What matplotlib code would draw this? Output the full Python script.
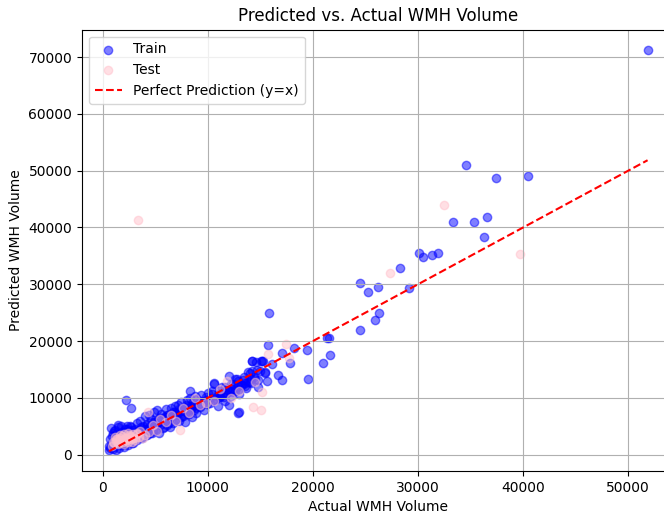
import matplotlib
matplotlib.use('Agg')
import matplotlib.pyplot as plt

# 학습 데이터 (실제값, 예측값)
train_actual = [
    700, 800, 900, 1000, 1100, 1200, 1300, 1400, 800, 1000, 1200, 1500, 1600, 1700, 1800, 1900,
    2000, 2100, 2200, 2300, 2400, 2500, 2600, 2700, 2800, 2900, 3000, 600, 650, 750, 850, 950,
    1050, 1150, 1250, 1350, 1450, 1550, 1650, 1750, 1850, 1950, 2050, 2150, 2250, 2350, 2450,
    2550, 2650, 2750, 2850, 2950,
    3100, 3200, 3300, 3400, 3500, 3600, 3700, 3800, 3900, 4000, 4100, 4200, 4300, 4400, 4500,
    4600, 4700, 4800, 4900, 5000, 5100, 5200, 5300, 5400, 5500, 5600, 5700, 5800, 5900, 6000,
    6100, 6200, 6300, 6400, 6500, 6600, 6700, 6800, 6900, 7000,
    7100, 7200, 7300, 7400, 7500, 7600, 7700, 7800, 7900, 8000, 8100, 8200, 8300, 8400, 8500,
    8600, 8700, 8800, 8900, 9000, 9200, 9400, 9600, 9800, 10000, 10200, 10400, 10600, 10800, 11000,
    11200, 11400, 11600, 11800, 12000, 12200, 12400, 12600, 12800, 13000, 13200, 13400, 13600,
    13800, 14000, 14200, 14400, 14600, 14800, 15000, 15200, 15400, 15600, 13000, 8300, 12000, 11500,
    2260, 2730, 15840, 15690, 18190, 19400, 21360, 21500, 20980, 19520, 17110, 17810, 16670, 17110,
    15210, 14190, 15110, 16100, 14220, 15460, 12640, 10600, 12860, 21650,
    24450, 25940, 26250, 29170, 26220, 25200, 24500, 28290, 30070, 30450, 31300, 31940,
    36250, 33300, 35360, 36540, 34600, 37430, 40450, 51840,
    1300, 1600, 2000, 2400, 2800, 3300, 3700, 4200, 4700, 5200, 5800, 6300, 6900, 7500, 8100,
    8700, 9300, 9900, 10500, 11100, 11700, 12300, 12900, 13500, 14100,
    3050, 3350, 3650, 3950, 4250, 4550, 4850, 5150, 5450, 5750, 6050, 6350, 6650, 6950, 7250,
    7550, 7850, 8150, 8450, 8750, 9050, 9350, 9650, 9950, 10250, 10550, 10850, 11150, 11450,
    11750, 12050, 12350, 12650, 12950, 13250, 13550, 13850, 14150, 14450, 14750,
    3250, 3850, 4450, 5050, 5650, 6250, 6850, 7450, 8050, 8650, 9250, 9850, 10450, 11050, 11650,
    12250, 12850, 13450, 14050, 14650, 1100, 1700, 2300, 2900, 4900, 5500, 6100, 6700, 7300, 7900,
]
train_pred = [
    1200, 1500, 2000, 1300, 2500, 3000, 1800, 2200, 4700, 3800, 4300, 5200, 3500, 2700, 4000, 1900,
    3300, 4600, 2600, 5000, 3700, 4200, 2300, 4800, 3100, 2000, 3900, 900, 1600, 2800, 3300, 1000,
    4100, 1500, 2700, 3600, 4800, 2400, 1700, 5000, 3000, 2200, 4000, 1800, 3200, 4500, 2900,
    3500, 5100, 2700, 4400, 3300,
    4600, 2800, 5500, 3600, 4300, 6000, 3200, 5000, 4000, 6800, 3500, 5400, 4500, 7000, 3900,
    6200, 5000, 4200, 7500, 5600, 4600, 7800, 6300, 3800, 5300, 7100, 4700, 6600, 5900, 8000,
    5200, 7000, 6200, 4900, 8300, 6800, 5600, 7600, 8600, 6300,
    7200, 8800, 6000, 7900, 9200, 6800, 8300, 5800, 7600, 9600, 8500, 7100, 9900, 8000, 6600,
    9300, 8700, 10300, 7400, 9800, 8900, 10500, 7800, 9600, 10800, 9100, 11200, 12500, 9800, 8500,
    10900, 12000, 9400, 11500, 13800, 10300, 12500, 11200, 13400, 10600, 12300, 13200, 11700,
    14500, 12800, 16500, 13600, 16300, 12000, 14800, 16500, 14300, 12900, 7500, 11300, 8800, 10200,
    9660, 8250, 24910, 19260, 18850, 18430, 20620, 20550, 16080, 13250, 17900, 16130, 14010, 13130,
    16490, 16490, 16550, 16020, 14790, 14490, 13250, 12600, 7420, 17490,
    22030, 23670, 24970, 29380, 29560, 28620, 30270, 32920, 35570, 34750, 35160, 35510,
    38390, 41040, 40930, 41870, 51000, 48640, 49000, 71300,
    900, 1100, 1400, 1700, 2000, 2500, 2900, 3400, 3800, 4300, 4900, 5500, 6100, 6600, 7200,
    7800, 8400, 9000, 9700, 10200, 10800, 11600, 12100, 12700, 13300,
    3900, 4200, 4900, 4600, 5300, 5000, 5800, 5500, 6300, 6000, 6700, 6500, 7200, 7000, 7600,
    7400, 8100, 7900, 8600, 8300, 9000, 8800, 9400, 9200, 9900, 9700, 10300, 10100, 10800,
    10600, 11300, 11100, 11800, 11600, 12300, 12100, 12800, 12600, 13300, 13100,
    3400, 4000, 4600, 5300, 5900, 6400, 7100, 7700, 8300, 8800, 9500, 10100, 10700, 11300, 11900,
    12500, 13000, 13700, 14300, 14900, 1800, 2300, 3000, 3500, 5800, 6400, 7000, 7500, 8100, 8700,
]

# 테스트 데이터 (실제값, 예측값)
test_actual = [
    900, 1100, 1300, 1500, 1700, 1900, 2100, 2300, 2500, 2700, 2900, 3100, 1200, 1600, 2000,
    2400, 2800, 3300, 3600, 4000, 4300, 4400, 4800, 5200, 5500, 6000, 6500, 7000, 7400, 7600,
    8200, 8800, 9300, 10600, 11200, 12200, 13000, 14300, 15100, 14500, 15200, 15700, 17400,
    17700, 27300, 32500, 39700, 3400, 9800, 11800, 1400, 1800, 2200, 2600,
    1000, 1250, 1450, 1650, 1850, 2050, 2250, 2450, 2650, 2850, 3050, 3250, 3500, 3800,
]
test_pred = [
    1500, 2000, 2400, 1800, 2900, 2200, 3000, 2500, 3500, 2800, 3700, 3000, 3200, 2600, 1900,
    3900, 2300, 3600, 4100, 3400, 7600, 4000, 5200, 4100, 6300, 5700, 7000, 6000, 4400, 8300,
    7300, 10000, 8700, 9500, 11500, 9900, 11300, 8400, 7800, 12800, 11100, 17800, 19500,
    17100, 32000, 43900, 35300, 41300, 9100, 13000, 2800, 3300, 2700, 3100,
    2300, 2700, 2100, 3400, 2500, 3600, 2900, 2200, 3300, 3000, 2600, 3800, 3200, 2900,
]


def generated_report():
    fig = plt.figure(figsize=(6.64, 5.13), dpi=100)
    ax = fig.add_axes([82 / 664, 42 / 513, 592.5 / 664, 441.3 / 513])

    ax.scatter(train_actual, train_pred, color='blue', alpha=0.5, label='Train')
    ax.scatter(test_actual, test_pred, color='pink', alpha=0.5, label='Test')

    lo = min(train_actual + test_actual)
    hi = max(train_actual + test_actual)
    ax.plot([lo, hi], [lo, hi], 'r--', label='Perfect Prediction (y=x)')

    ax.set_xlim(-1960, 54400)
    ax.set_ylim(-2870, 74820)
    ax.set_xlabel('Actual WMH Volume')
    ax.set_ylabel('Predicted WMH Volume')
    ax.set_title('Predicted vs. Actual WMH Volume')
    ax.legend(loc='upper left')
    ax.grid(True)

    fig.savefig('out.png', dpi=100)


if __name__ == '__main__':
    generated_report()
